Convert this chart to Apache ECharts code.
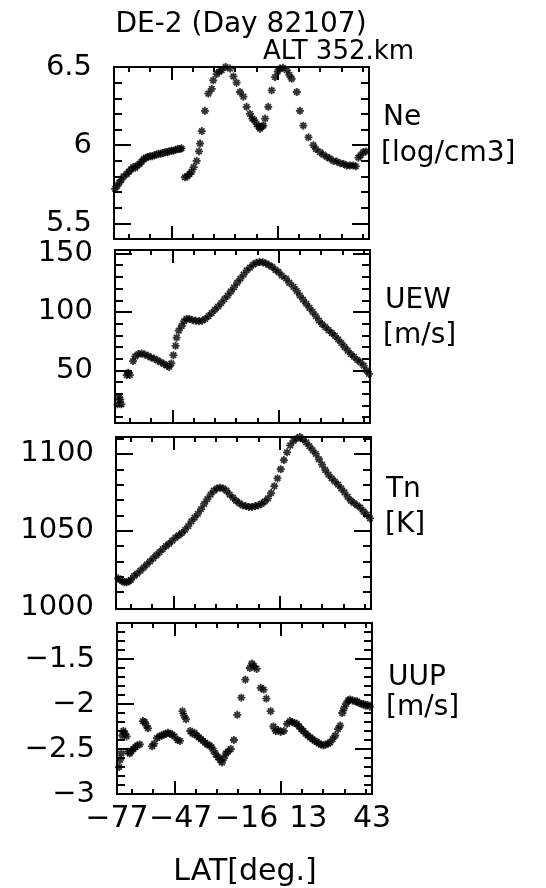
<!DOCTYPE html>
<html><head><meta charset="utf-8">
<script src="https://cdn.jsdelivr.net/npm/echarts@6/dist/echarts.min.js"></script>
<style>html,body{margin:0;padding:0;background:#fff}#c{width:546px;height:888px}</style>
</head><body><div id="c"></div>
<script>
// ---- data ----
const neLat = [-76.5,-75.5,-74.5,-73.5,-72.5,-71,-70,-69,-68,-67,-66,-65,-64,-63,-62,-61,-60,-59,-58,-57,-56,-55,-54,-53,-52,-51,-50,-49,-48,-47,-46,-45.2,
  -43.6,-42.5,-41.5,-40.5,-39.5,-38.1,-37,-36.5,-35.7,-34.2,-32.6,-31,-30.3,-28.7,-27.5,-26.3,-24.5,-22.4,-20.8,-19.3,-17.7,-16.1,-14.6,-13,-11.9,-11,-9.9,-9,-8.3,-7.5,-6.7,-5.9,-4.4,-2.8,-1.2,0,1.1,2.5,4.3,5.5,6.6,9,10.5,12.1,14.5,16.8,18,19.9,21.5,23.1,24.5,26.2,27.8,29.4,31,32.5,34,35.6,36.8,38,39,40.3,41.5];
const neVal = [5.72,5.74,5.76,5.78,5.80,5.815,5.83,5.845,5.86,5.855,5.87,5.88,5.895,5.91,5.92,5.925,5.93,5.93,5.935,5.94,5.945,5.945,5.95,5.955,5.955,5.96,5.965,5.965,5.97,5.975,5.975,5.98,
  5.795,5.80,5.815,5.83,5.86,5.90,5.96,6.01,6.09,6.22,6.33,6.36,6.415,6.455,6.47,6.48,6.5,6.49,6.44,6.40,6.34,6.31,6.245,6.20,6.17,6.16,6.135,6.12,6.105,6.12,6.125,6.17,6.245,6.35,6.435,6.47,6.49,6.495,6.48,6.45,6.425,6.34,6.22,6.125,6.05,6.0,5.975,5.955,5.94,5.925,5.915,5.90,5.895,5.885,5.88,5.87,5.87,5.87,5.865,5.92,5.935,5.955,5.96];

const uewLat = [-75.8,-75.2,-74.5,-74.0,-71.5,-70.8,-70.0,-68.5,-67.5,-66,-64.5,-63,-61.5,-60,-58.5,-57,-55.5,-54,-52.5,-51.5,-50.5,-49.5,-48.5,-48,-47,-45.6,-44.5,-43.3,-42,-40.5,-39,-37.5,-36,-34.5,-33,-31.5,-30,-28.5,-27,-25.5,-24,-22.5,-21,-19.5,-18,-16.5,-15,-13.5,-12,-10.5,-9,-7.5,-6,-4.5,-3,-1.5,0,1.5,3.5,5,7,8.5,10,11.5,13,14.5,16,17.5,19,20.5,22,23.5,25,26.5,28,29.5,31,32.5,34,35.5,37,38.5,40,41.5,42.5];
const uewVal = [21,27,25,21,46,48,46,58,62,64,64.5,63.5,62.5,61,60,58.5,57,55.5,54,53,56,63,71,78,84,88,92,94,94,93,92.5,92,92.5,94,96.5,99,102,104.5,107.5,111,114,117.5,121,125,128.5,132,135.5,138,140.5,142,142.7,142.5,141.5,140,138.5,136,134,131,128.5,125,121.5,118,114,110.5,107,103.5,100,96.5,92.5,89.5,87,84.5,82,79.5,76.5,73.5,70,67,64,61.5,59,57,54,50,47];

const tnLat = [-76,-75,-74,-73,-72,-71,-70,-68.5,-67,-65.5,-64,-62.5,-61,-59.5,-58,-56.5,-55,-53.5,-52,-50.5,-49,-47.5,-46,-44.5,-43,-41.5,-40,-38.5,-37,-35.5,-34,-32.5,-31,-29.5,-28,-26.5,-25,-23.5,-22,-20.5,-19,-17.5,-16,-14.5,-13,-11.5,-10,-8.5,-7,-5.5,-4,-2.5,-1,0.5,2,3.5,5,6.5,8,9.5,11,12.5,14,15.5,17,18.5,20,21.5,23,24.5,26,27.5,29,30.5,32,33.5,35,36.5,38,39.5,41,42.5];
const tnVal = [1019,1018,1017,1016.5,1016.5,1017,1018,1020.5,1022,1024,1026,1028,1030,1032,1034,1036,1038,1040,1041.5,1043.5,1045.5,1047,1048.5,1050.5,1053,1056,1058.5,1061,1064,1067.5,1070.5,1073.5,1076,1077.5,1078,1077.5,1076,1073.5,1071.5,1069.5,1068,1066.5,1066,1065.5,1065.5,1066,1066.5,1067.5,1069,1071,1074.5,1079,1084,1090,1096,1101,1105.5,1108.5,1110,1111,1109.5,1107.5,1105,1102.5,1100,1096.5,1093,1089.5,1086.5,1084,1082,1080,1077.5,1075,1072,1069.5,1068,1066.5,1065,1062.5,1060.5,1058];

const uupLat = [-76,-75.5,-75,-74.5,-74,-73.2,-72.5,-71.8,-71,-70.2,-69.3,-68.3,-67.5,-66.3,-64.8,-64,-63.2,-62.4,-60.5,-59.5,-58.2,-57,-56,-55,-54,-53,-52,-51,-50,-48.5,-47.4,-46.2,-45.5,-44.5,-42.5,-41.5,-40.5,-39.5,-38.5,-37.5,-36.5,-35.5,-34.5,-33.5,-32.5,-31.5,-30.5,-29.5,-28.5,-27.6,-26.7,-25.7,-24.8,-23.5,-22,-20.4,-18.5,-16.6,-14.5,-13.5,-12.5,-11.3,-9.4,-8,-6.7,-4.7,-3.4,-2.3,-1.2,0,1.5,3,4.4,5.5,6.5,7.6,8.7,9.7,10.7,11.8,12.8,13.9,15,16,17,18,19,20.2,21.2,22.3,23.3,24.5,25.7,27,28,29,29.8,30.8,31.8,32.7,33.8,35,36,37,38,39,40,41,42];
const uupVal = [-2.70,-2.62,-2.55,-2.35,-2.30,-2.33,-2.36,-2.53,-2.55,-2.52,-2.50,-2.48,-2.46,-2.45,-2.19,-2.20,-2.24,-2.27,-2.47,-2.44,-2.38,-2.36,-2.35,-2.34,-2.33,-2.32,-2.33,-2.34,-2.36,-2.40,-2.41,-2.08,-2.13,-2.17,-2.30,-2.33,-2.32,-2.35,-2.37,-2.39,-2.41,-2.43,-2.45,-2.46,-2.48,-2.52,-2.56,-2.59,-2.62,-2.65,-2.60,-2.55,-2.53,-2.50,-2.40,-2.12,-1.93,-1.73,-1.60,-1.55,-1.58,-1.61,-1.82,-1.84,-1.94,-2.08,-2.25,-2.30,-2.29,-2.31,-2.30,-2.22,-2.19,-2.20,-2.21,-2.22,-2.25,-2.28,-2.30,-2.33,-2.35,-2.37,-2.39,-2.41,-2.42,-2.44,-2.45,-2.46,-2.45,-2.44,-2.43,-2.39,-2.35,-2.28,-2.24,-2.10,-2.05,-2.00,-1.96,-1.95,-1.96,-1.97,-1.97,-1.99,-2.00,-2.00,-2.02,-2.01,-2.03];

// ---- ticks & labels ----
const latTicks = [-70,-60,-50,-40,-30,-20,-10,0,10,20,30,40];
const latMajorTicks = [-50,0];
const latLabels = [-77,-47,-16,13,43];
const neTicks = [5.5,5.6,5.7,5.8,5.9,6.0,6.1,6.2,6.3,6.4];
const neMajor = [5.5,6.0];
const neLabels = [5.5,6,6.5];
const uewTicks = [10,20,30,40,50,60,70,80,90,100,110,120,130,140,150];
const uewMajor = [50,100,150];
const uewLabels = [50,100,150];
const tnTicks = [1010,1020,1030,1040,1050,1060,1070,1080,1090,1100,1110];
const tnMajor = [1050,1100];
const tnLabels = [1000,1050,1100];
const uupTicks = [-2.9,-2.8,-2.7,-2.6,-2.5,-2.4,-2.3,-2.2,-2.1,-2.0,-1.9,-1.8,-1.7,-1.6,-1.5,-1.4,-1.3,-1.2];
const uupMajor = [-2.5,-2.0,-1.5];
const uupLabels = [-3,-2.5,-2,-1.5];

const FONT = '"DejaVu Sans", sans-serif';
const fmt = v => (v < 0 ? '\u2212' + Math.abs(v) : String(v));
const star = 'path://M-0.9,-4L0.9,-4L0.9,4L-0.9,4Z M-4,-0.9L4,-0.9L4,0.9L-4,0.9Z M-3.4,-2.1L-2.1,-3.4L3.4,2.1L2.1,3.4Z M3.4,-2.1L-2.1,3.4L-3.4,2.1L2.1,-3.4Z';

const panels = [
  {lat: neLat, val: neVal, min: 5.4, max: 6.5, ticks: neTicks, major: neMajor, labels: neLabels, grid: {left: 114, top: 67, width: 255, height: 172}},
  {lat: uewLat, val: uewVal, min: 5, max: 153, ticks: uewTicks, major: uewMajor, labels: uewLabels, grid: {left: 115, top: 250, width: 255, height: 173}},
  {lat: tnLat, val: tnVal, min: 999, max: 1111, ticks: tnTicks, major: tnMajor, labels: tnLabels, grid: {left: 116, top: 437, width: 255, height: 172}},
  {lat: uupLat, val: uupVal, min: -3.0, max: -1.1, ticks: uupTicks, major: uupMajor, labels: uupLabels, grid: {left: 117, top: 623, width: 255, height: 171}}
];

const line = {color: '#000', width: 2};
const grids = [], xAxes = [], yAxes = [], series = [];
panels.forEach((p, i) => {
  grids.push(Object.assign({containLabel: false}, p.grid));
  const xa = (pos, ticks, len, showLine, label) => ({
    gridIndex: i, type: 'value', min: -77, max: 43, position: pos,
    axisLine: {show: showLine, onZero: false, lineStyle: line},
    axisTick: {show: true, inside: true, length: len, customValues: ticks, lineStyle: line},
    axisLabel: label || {show: false},
    splitLine: {show: false}
  });
  const lab = i === 3 ? {show: true, customValues: latLabels, formatter: fmt, color: '#000', fontFamily: FONT, fontSize: 30, margin: 10} : null;
  xAxes.push(xa('bottom', latTicks, 5, true, lab));
  xAxes.push(xa('bottom', latMajorTicks, 13, false, null));
  xAxes.push(xa('top', latTicks, 5, true, null));
  xAxes.push(xa('top', latMajorTicks, 13, false, null));
  const ya = (pos, ticks, len, showLine, label) => ({
    gridIndex: i, type: 'value', min: p.min, max: p.max, position: pos,
    axisLine: {show: showLine, onZero: false, lineStyle: line},
    axisTick: {show: true, inside: true, length: len, customValues: ticks, lineStyle: line},
    axisLabel: label || {show: false},
    splitLine: {show: false}
  });
  yAxes.push(ya('left', p.ticks, 8, true, {show: true, customValues: p.labels, formatter: fmt, color: '#000', fontFamily: FONT, fontSize: 29, margin: 22}));
  yAxes.push(ya('left', p.major, 17, false, null));
  yAxes.push(ya('right', p.ticks, 8, true, null));
  yAxes.push(ya('right', p.major, 17, false, null));
  series.push({
    type: 'scatter', xAxisIndex: 4 * i, yAxisIndex: 4 * i,
    data: p.lat.map((x, k) => [x, p.val[k]]),
    symbol: star, symbolSize: 8, itemStyle: {color: '#000'}, silent: true
  });
});

const txt = (text, x, y, size, align) => ({
  type: 'text', x: x, y: y, silent: true,
  style: {text: text, fill: '#000', fontSize: size, fontFamily: FONT, align: align || 'left', verticalAlign: 'middle'}
});

const chart = echarts.init(document.getElementById('c'), null, {renderer: 'canvas'});
chart.setOption({
  backgroundColor: '#fff',
  animation: false,
  grid: grids, xAxis: xAxes, yAxis: yAxes, series: series,
  graphic: [
    txt('DE-2 (Day 82107)', 241, 25, 28, 'center'),
    txt('ALT 352.km', 263, 52, 26),
    txt('Ne', 383, 118, 28),
    txt('[log/cm3]', 381, 154, 28),
    txt('UEW', 385, 301, 28),
    txt('[m/s]', 383, 336, 28),
    txt('Tn', 386, 490, 28),
    txt('[K]', 385, 525, 28),
    txt('UUP', 388, 678, 28),
    txt('[m/s]', 386, 708, 28),
    txt('LAT[deg.]', 245, 872, 30, 'center')
  ]
});
</script>
</body></html>
